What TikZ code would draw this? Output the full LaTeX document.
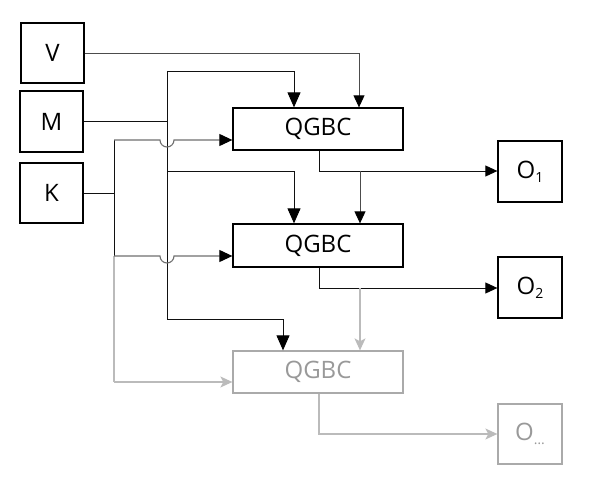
\documentclass[tikz,border=0pt]{standalone}
\usepackage{fontspec}
\setmainfont{Open Sans}
\usetikzlibrary{arrows.meta}
\definecolor{ln}{HTML}{111111}
\definecolor{kgrey}{HTML}{6E6E6E}
\definecolor{lgrey}{HTML}{BBBBBB}
\definecolor{bgrey}{HTML}{AAAAAA}
\definecolor{tgrey}{HTML}{999999}
\newcommand{\sbs}[1]{\raisebox{-4pt}{\fontsize{14}{14}\selectfont #1}}
\tikzset{
  box/.style={draw=black, line width=1.3pt, minimum width=#1, inner sep=0pt, font=\fontsize{24}{24}\selectfont},
  gbox/.style={draw=bgrey, text=tgrey, line width=1.3pt, minimum width=#1, inner sep=0pt, font=\fontsize{24}{24}\selectfont},
  wire/.style={draw=ln, line width=0.9pt},
  kwire/.style={draw=kgrey, line width=1.1pt},
  gwire/.style={draw=lgrey, line width=1.1pt},
  bigtip/.style={-{Triangle[length=15pt,width=13pt,color=black]}},
  smtip/.style={-{Triangle[length=12pt,width=11pt,color=black]}},
  kt/.style={-{Triangle[length=13pt,width=12pt,color=black]}},
  gtip/.style={-{Stealth[length=12pt,width=11pt,inset=3pt]}},
}
\begin{document}
\begin{tikzpicture}[x=1pt,y=-1pt]
\useasboundingbox (0,0) rectangle (600,500);
% input boxes
\node[box=63pt, minimum height=60pt] (V) at (52.5,53) {V};
\node[box=63pt, minimum height=61pt] (M) at (51.5,121.5) {M};
\node[box=63pt, minimum height=60pt] (K) at (51.5,193) {K};
% processing boxes
\node[box=170pt, minimum height=42pt] (Q1) at (318,129) {QGBC};
\node[box=170pt, minimum height=43pt] (Q2) at (318,245.5) {QGBC};
\node[gbox=170pt, minimum height=42pt] (Q3) at (318,372) {QGBC};
% outputs
\node[box=64pt, minimum height=61pt] (O1) at (530,171.5) {O\sbs{1}};
\node[box=64pt, minimum height=61pt] (O2) at (530,287.5) {O\sbs{2}};
\node[gbox=64pt, minimum height=60pt] (O3) at (530,434) {O\sbs{…}};
% coordinates
\coordinate (vx) at (359,0);
\coordinate (bx) at (167,0);
\coordinate (b1) at (167,71);
\coordinate (b2) at (167,171);
\coordinate (b3) at (167,319);
\coordinate (a1) at (294,0);
\coordinate (a3) at (283,0);
\coordinate (kx) at (114,0);
\coordinate (k1) at (114,140);
\coordinate (k2) at (114,256);
\coordinate (k3) at (114,382);
\coordinate (ox) at (319,0);
\coordinate (dx) at (360,0);
\coordinate (p1) at (319,171);
\coordinate (p2) at (319,288);
\coordinate (p3) at (319,434);
% V line
\draw[wire, draw=black!70, smtip] (V.east) -| (vx |- Q1.north);
% M line and bus
\draw[draw=ln, line width=1.8pt] (M.east) -- (bx |- M.east);
\draw[wire] (b1) -- (b3);
\draw[wire, bigtip] (b1) -| (a1 |- Q1.north);
\draw[wire, bigtip] (b2) -| (a1 |- Q2.north);
\draw[wire, bigtip] (b3) -| (a3 |- Q3.north);
% K lines
\draw[wire] (K.east) -- (kx |- K.east);
\draw[wire] (k1) -- (k2);
\draw[gwire] (k2) -- (k3);
\draw[kwire, kt] (k1) -- (160,140) arc[start angle=180, end angle=0, radius=7] -- (Q1.west |- k1);
\draw[kwire, kt] (k2) -- (160,256) arc[start angle=180, end angle=0, radius=7] -- (Q2.west |- k2);
\draw[gwire, gtip] (k3) -- (Q3.west |- k3);
% outputs
\draw[wire, smtip] (ox |- Q1.south) -- (p1) -- (O1.west |- p1);
\draw[wire, draw=black!70, smtip] (dx |- p1) -- (dx |- Q2.north);
\draw[wire, smtip] (ox |- Q2.south) -- (p2) -- (O2.west |- p2);
\draw[gwire, gtip] (dx |- p2) -- (dx |- Q3.north);
\draw[gwire, gtip] (ox |- Q3.south) -- (p3) -- (O3.west |- p3);
\end{tikzpicture}
\end{document}
